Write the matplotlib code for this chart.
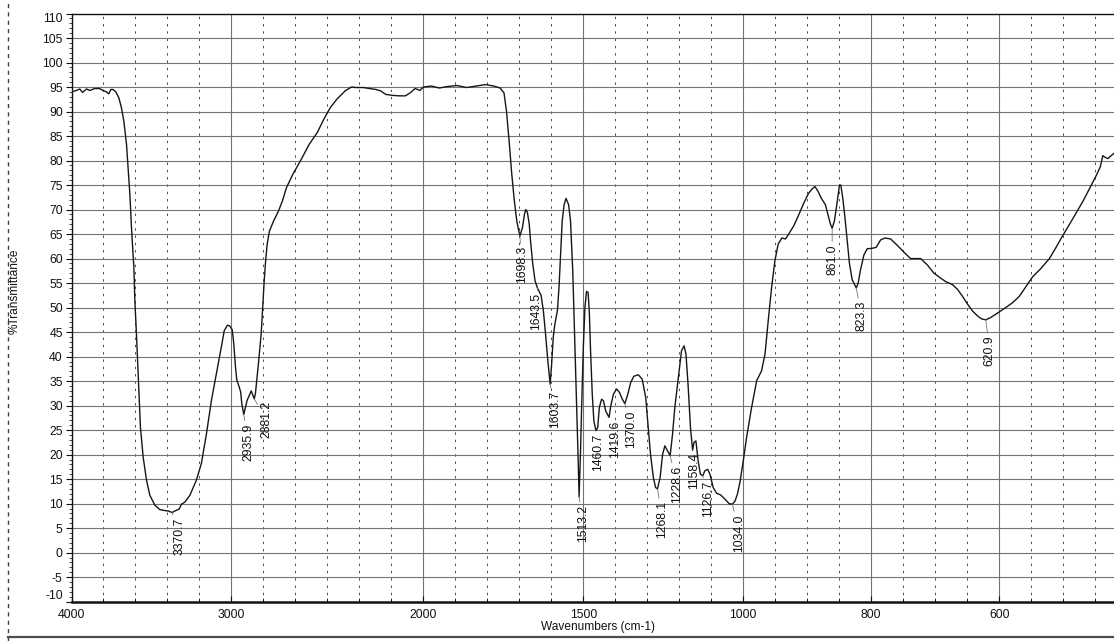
import numpy as np
import matplotlib
matplotlib.use("Agg")
import matplotlib.pyplot as plt
from matplotlib.lines import Line2D

plt.rcParams['font.family'] = ['Liberation Sans', 'DejaVu Sans']

# ---------------- data ----------------
wavenumber = [
    4000, 3969, 3948, 3931, 3906, 3885, 3854, 3827, 3802, 3781, 3767, 3754, 3740, 3723,
    3704, 3688, 3673, 3656, 3646, 3635, 3625, 3610, 3604, 3594, 3581, 3569, 3552, 3531,
    3510, 3479, 3448, 3417, 3395, 3370.7, 3354, 3327, 3312, 3292, 3260, 3219, 3188, 3156,
    3125, 3094, 3063, 3045, 3025, 3012, 2996, 2988, 2979, 2972, 2962, 2952, 2946, 2935.9,
    2918, 2897, 2890, 2881.2, 2875, 2861, 2845, 2835, 2830, 2822, 2814, 2802, 2780, 2755,
    2735, 2713, 2680, 2637, 2595, 2553, 2519, 2485, 2451, 2408, 2375, 2350, 2315, 2281,
    2247, 2222, 2196, 2162, 2128, 2094, 2069, 2043, 2018, 2000, 1975, 1950, 1925, 1895,
    1865, 1835, 1805, 1780, 1760, 1748, 1740, 1732, 1724, 1716, 1708, 1702, 1698.3, 1690,
    1684, 1680, 1675, 1669, 1665, 1658, 1651, 1643.5, 1632, 1625, 1618, 1611, 1603.7, 1599,
    1594, 1589, 1581, 1576, 1571, 1566, 1560, 1554, 1546, 1540, 1533, 1527, 1521, 1516.6,
    1513.2, 1509, 1505, 1500, 1495, 1490, 1485, 1481, 1477, 1472, 1467, 1460.7, 1455, 1450,
    1443, 1437, 1430, 1419.6, 1414, 1406, 1396, 1387, 1378, 1370.0, 1361, 1352, 1342, 1328,
    1316, 1305, 1297, 1290, 1281, 1274, 1268.1, 1260, 1252, 1245, 1237, 1228.6, 1221, 1214,
    1203, 1193, 1185, 1179, 1172, 1165, 1158.4, 1154, 1148, 1141, 1134, 1126.7, 1120, 1111,
    1104, 1094, 1083, 1071, 1057, 1044, 1034.0, 1026, 1018, 1010, 1000, 994.8, 987, 979,
    971.4, 966, 961, 955.7, 950.5, 945.3, 939.5, 934, 929, 921, 913, 905.5, 898, 892.5,
    888, 883, 878, 871.6, 867, 863.7, 861.0, 857.5, 853, 849.6, 847.5, 844.4, 841, 837.6,
    834, 829.8, 823.3, 820.4, 816.7, 811.5, 806.3, 798.4, 792.2, 785.4, 778.6, 769.7, 759.2,
    748.8, 738.4, 733, 722.7, 712.2, 701.8, 691.3, 683.5, 673, 665, 657.3, 649.4, 641.6,
    633.8, 627.5, 620.9, 612.9, 602.5, 592, 579, 568.5, 558, 547.6, 534.6, 521.5, 511,
    500.6, 490, 479.7, 469, 458.7, 448, 442, 438, 435, 430, 425, 420,
]
transmittance = [
    94.0, 94.3, 94.6, 93.9, 94.6, 94.3, 94.7, 94.7, 94.3, 94.0, 93.6, 94.5, 94.5, 94.0,
    92.8, 90.8, 88.1, 83.3, 78.5, 73.1, 66.3, 58.1, 51.5, 44.7, 34.5, 25.6, 19.5, 14.8,
    11.7, 9.7, 8.8, 8.6, 8.5, 8.2, 8.5, 8.9, 9.9, 10.3, 11.7, 14.8, 18.2, 24.3,
    31.1, 36.5, 42.0, 45.3, 46.4, 46.3, 45.5, 42.7, 37.9, 35.2, 34.1, 32.8, 30.4, 28.2,
    31.1, 33.0, 32.3, 31.4, 32.5, 37.9, 44.7, 51.5, 55.0, 59.5, 62.9, 65.6, 67.7, 69.7,
    71.7, 74.5, 77.2, 80.2, 83.3, 85.7, 88.4, 90.8, 92.5, 94.2, 95.0, 94.9, 94.9, 94.7,
    94.5, 94.2, 93.5, 93.3, 93.2, 93.2, 93.8, 94.7, 94.3, 95.0, 95.2, 94.8, 95.1, 95.3,
    94.9, 95.2, 95.5, 95.2, 94.8, 93.8, 90.0, 84.0, 77.5, 72.0, 67.7, 65.7, 64.6, 66.4,
    69.0, 70.0, 69.5, 67.0, 63.6, 58.9, 55.5, 54.0, 52.5, 49.4, 44.6, 39.2, 34.4, 38.5,
    43.9, 46.6, 49.4, 54.1, 60.9, 67.7, 71.0, 72.3, 71.0, 67.7, 57.5, 43.9, 30.3, 20.1,
    11.4, 20.1, 30.3, 41.9, 50.0, 53.3, 53.1, 48.7, 40.5, 32.3, 26.9, 24.9, 25.5, 29.6,
    31.3, 31.0, 28.9, 27.6, 30.0, 32.3, 33.4, 32.7, 31.3, 30.4, 32.3, 34.7, 36.0, 36.3,
    35.4, 31.7, 25.5, 20.1, 15.3, 13.3, 13.0, 15.3, 20.1, 21.8, 20.8, 19.8, 24.2, 29.6,
    35.7, 41.2, 42.2, 40.5, 33.7, 25.5, 20.9, 22.5, 22.8, 18.7, 16.0, 15.7, 16.7, 17.0,
    16.0, 13.3, 12.1, 11.8, 10.9, 10.0, 9.9, 10.5, 12.0, 14.5, 18.7, 23.5, 29.6, 35.1,
    37.1, 40.5, 47.3, 54.1, 59.6, 63.0, 64.2, 64.0, 65.0, 66.7, 69.0, 71.3, 73.3, 74.2,
    74.7, 73.7, 72.3, 71.0, 68.7, 67.0, 66.2, 67.7, 71.7, 75.0, 75.0, 72.3, 68.3, 63.7,
    59.0, 55.7, 54.0, 55.0, 57.7, 60.7, 62.0, 62.1, 62.3, 63.8, 64.2, 64.0, 62.7,
    61.3, 60.0, 60.0, 60.0, 58.7, 57.0, 56.0, 55.3, 54.7, 53.7, 52.3, 50.7, 49.3,
    48.3, 47.7, 47.5, 48.0, 48.9, 49.8, 51.0, 52.3, 54.3, 56.3, 58.0, 60.0, 62.3,
    64.7, 67.0, 69.3, 71.7, 74.3, 77.0, 78.7, 81.0, 80.7, 80.4, 81.0, 81.5,
]
peak_labels = ["3370.7", "2935.9", "2881.2", "1698.3", "1643.5", "1603.7", "1513.2",
               "1460.7", "1419.6", "1370.0", "1268.1", "1228.6", "1158.4", "1126.7",
               "1034.0", "861.0", "823.3", "620.9"]
x_tick_values = [4000, 3000, 2000, 1500, 1000, 800, 600]
y_tick_values = list(range(-10, 115, 5))

# ---------------- layout / scale ----------------
# the printed chart uses a grid of equal divisions; labelled ticks sit on these divisions
grid_index = [0, 5, 11, 16, 21, 25, 29]
n_div_right = 32.59
# per-label text offsets (pixels: dx right, dy down) from the trough
label_offsets = [(6, 5), (4, 9), (11, 2), (1, 10), (-2, 5), (4, 7), (3, 8),
                 (1, 3), (5, 3), (5, 7), (4, 12), (6, 10), (1, 3), (4, 5),
                 (6, 10), (-1, 16), (4, 13), (3, 16)]

WT = np.array(x_tick_values, float)
UT = np.array(grid_index, float)
s_first = (UT[1] - UT[0]) / (WT[0] - WT[1])
s_last = (UT[-1] - UT[-2]) / (WT[-2] - WT[-1])


def wn_to_u(w):
    w = np.asarray(w, float)
    u = np.interp(-w, -WT, UT)
    u = np.where(w > WT[0], UT[0] - (w - WT[0]) * s_first, u)
    u = np.where(w < WT[-1], UT[-1] + (WT[-1] - w) * s_last, u)
    return u


def u_to_wn(u):
    u = np.asarray(u, float)
    w = np.interp(u, UT, WT)
    w = np.where(u < UT[0], WT[0] + (UT[0] - u) / s_first, w)
    w = np.where(u > UT[-1], WT[-1] - (u - UT[-1]) / s_last, w)
    return w


def fwd(w):
    return -wn_to_u(w)


def inv(v):
    return u_to_wn(-np.asarray(v, float))


W, H = 1114, 641
fig = plt.figure(figsize=(W / 100, H / 100), dpi=100)
ax_left, ax_right, ax_top, ax_bot = 71.5, 1114, 13.5, 601.7
ax = fig.add_axes([ax_left / W, 1 - ax_bot / H, (ax_right - ax_left) / W, (ax_bot - ax_top) / H])
ax.set_xscale('function', functions=(fwd, inv))
x_right = float(u_to_wn(n_div_right))
ax.set_xlim(4000, x_right)
ax.set_ylim(-10, 110)

wn = np.array(wavenumber)
tr = np.array(transmittance)
ax.plot(wn, tr, color='#161616', lw=1.0, zorder=5)

# grid
major_x = x_tick_values
minor_x = [float(u_to_wn(k)) for k in range(0, 33) if k not in grid_index]
ax.set_xticks(major_x, [str(v) for v in major_x])
ax.set_xticks(minor_x, minor=True)
ax.set_yticks(y_tick_values, [str(v) for v in y_tick_values])
ax.set_yticks(np.arange(-10, 111, 1), minor=True)

for v in major_x[1:]:
    ax.axvline(v, color='0.45', lw=0.8, zorder=1)
for v in minor_x:
    ax.axvline(v, color='0.3', lw=0.7, ls=(0, (2.5, 5)), zorder=1)
for v in y_tick_values[1:-1]:
    ax.axhline(v, color='0.45', lw=0.8, zorder=1)

ax.tick_params(axis='x', which='major', direction='in', length=4, width=0.8, pad=5,
               labelsize=8.8, colors='#111')
ax.tick_params(axis='x', which='minor', direction='in', length=3, width=0.6)
ax.tick_params(axis='y', which='major', direction='out', length=4.5, width=0.8, pad=1.8,
               labelsize=8.8, colors='#111')
ax.tick_params(axis='y', which='minor', direction='out', length=2, width=0.5)

yt = ax.yaxis.get_major_ticks()
yt[0].label1.set_va('bottom')
yt[-1].label1.set_va('top')

for side in ['left', 'top']:
    ax.spines[side].set_linewidth(1.0)
    ax.spines[side].set_color('#111')
ax.spines['bottom'].set_linewidth(1.8)
ax.spines['bottom'].set_color('#111')
ax.spines['right'].set_visible(False)

ax.set_xlabel('Wavenumbers (cm-1)', fontsize=8.6, color='#111')
ax.set_ylabel('%Transmittance', fontsize=8.6, color='#111')
ax.xaxis.set_label_coords((598 - ax_left) / (ax_right - ax_left), -(621 - ax_bot) / (ax_bot - ax_top))
ax.yaxis.set_label_coords(-(71.5 - 21) / (ax_right - ax_left), (ax_bot - 291) / (ax_bot - ax_top))

# peak annotations
for lab, (dx, dy) in zip(peak_labels, label_offsets):
    w0 = float(lab)
    t0 = float(np.interp(-w0, -wn, tr))
    ax.annotate(lab, xy=(w0, t0), xytext=(dx + 1, -dy), textcoords='offset pixels',
                rotation=90, ha='center', va='top', fontsize=8.8, color='#111',
                arrowprops=dict(arrowstyle='-', color='0.45', lw=0.6, shrinkA=0, shrinkB=0),
                zorder=6)

# scanned page border
fig.add_artist(Line2D([8 / W, 8 / W], [0, 1], transform=fig.transFigure,
                      color='0.25', lw=1.0, ls=(0, (3, 3))))
fig.add_artist(Line2D([8 / W, 1], [1 - 637 / H, 1 - 637 / H], transform=fig.transFigure,
                      color='0.3', lw=1.6))

fig.savefig('out.png', dpi=100, facecolor='white')
